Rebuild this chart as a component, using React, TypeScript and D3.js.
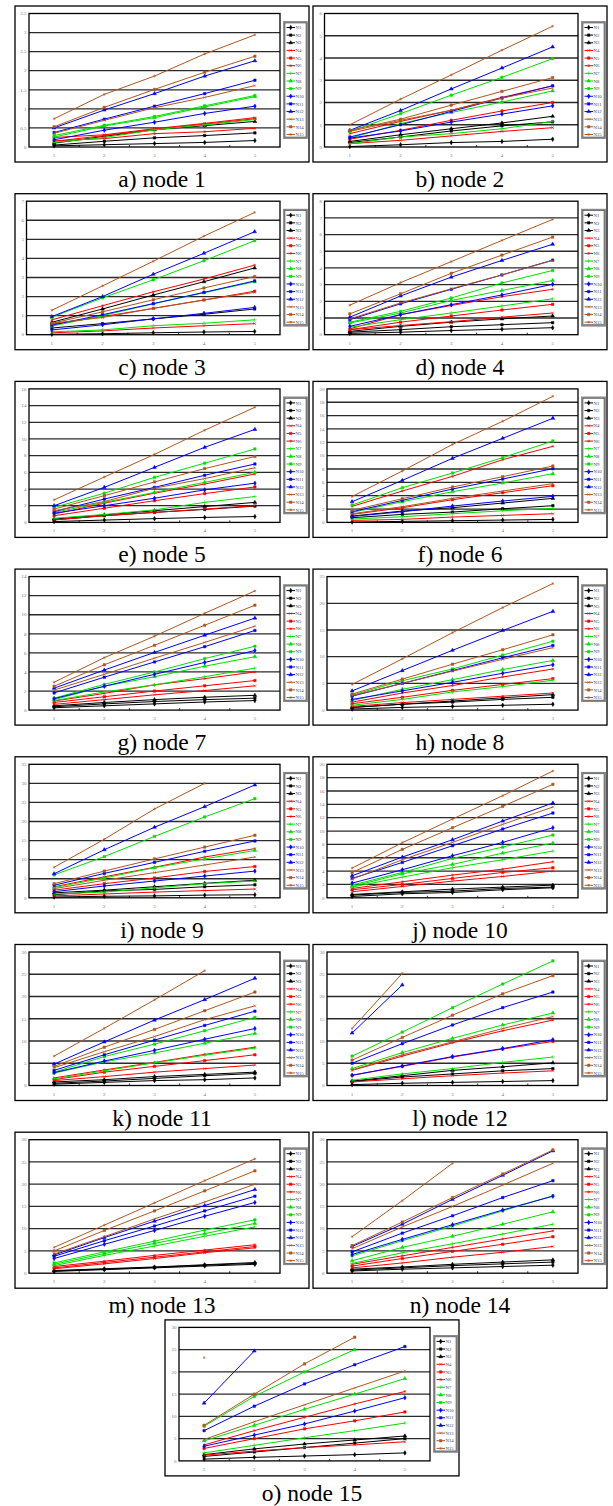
import { useEffect, useRef } from 'react';
import * as d3 from 'd3';

const categories = [1, 2, 3, 4, 5];
const seriesNames = ['N1', 'N2', 'N3', 'N4', 'N5', 'N6', 'N7', 'N8', 'N9', 'N10', 'N11', 'N12', 'N13', 'N14', 'N15'];
const captions = [
  'a) node 1', 'b) node 2', 'c) node 3', 'd) node 4', 'e) node 5', 'f) node 6', 'g) node 7', 'h) node 8',
  'i) node 9', 'j) node 10', 'k) node 11', 'l) node 12', 'm) node 13', 'n) node 14', 'o) node 15',
];
const yMaxes = [3.5, 6, 7, 8, 16, 20, 14, 25, 35, 20, 30, 30, 30, 30, 30];
const ySteps = [0.5, 1, 1, 1, 2, 2, 2, 5, 5, 2, 5, 5, 5, 5, 5];

type V = number | null;

// rows are N1..N15, columns are x = 1..5
const node1: V[][] = [
  [0.03, 0.06, 0.09, 0.12, 0.17],
  [0.05, 0.15, 0.24, 0.30, 0.37],
  [0.10, 0.28, 0.45, 0.56, 0.67],
  [0.25, 0.32, 0.48, 0.62, 0.77],
  [0.15, 0.30, 0.46, 0.60, 0.74],
  [0.16, 0.22, 0.35, 0.40, 0.49],
  [0.12, 0.25, 0.45, 0.58, 0.72],
  [0.26, 0.55, 0.77, 1.05, 1.32],
  [0.30, 0.57, 0.80, 1.08, 1.35],
  [0.19, 0.44, 0.65, 0.88, 1.07],
  [0.38, 0.73, 1.07, 1.40, 1.75],
  [0.50, 0.97, 1.40, 1.86, 2.26],
  [0.36, 0.70, 1.03, 1.30, 1.61],
  [0.53, 1.04, 1.51, 1.96, 2.38],
  [0.74, 1.38, 1.86, 2.44, 2.94],
];
const node2: V[][] = [
  [0.02, 0.10, 0.20, 0.25, 0.35],
  [0.20, 0.45, 0.72, 0.95, 1.13],
  [0.25, 0.55, 0.82, 1.08, 1.38],
  [0.15, 0.30, 0.50, 0.70, 0.87],
  [0.35, 0.75, 1.20, 1.62, 2.00],
  [0.60, 1.15, 1.65, 2.23, 2.75],
  [0.15, 0.45, 0.60, 0.82, 1.15],
  [0.40, 1.05, 1.55, 2.02, 2.52],
  [0.70, 1.50, 2.33, 3.13, 3.97],
  [0.40, 0.72, 1.12, 1.48, 1.85],
  [0.45, 1.00, 1.60, 2.20, 2.75],
  [0.75, 1.64, 2.61, 3.55, 4.50],
  [0.70, 1.20, 1.65, 2.20, 2.65],
  [0.75, 1.25, 1.88, 2.50, 3.12],
  [1.00, 2.15, 3.24, 4.35, 5.43],
];
const node3: V[][] = [
  [0.02, 0.05, 0.10, 0.14, 0.17],
  [0.35, 0.58, 0.83, 1.07, 1.35],
  [0.65, 1.35, 2.08, 2.78, 3.50],
  [0.10, 0.20, 0.35, 0.47, 0.58],
  [0.55, 0.95, 1.38, 1.82, 2.28],
  [0.78, 1.52, 2.25, 2.92, 3.65],
  [0.15, 0.25, 0.47, 0.60, 0.78],
  [0.45, 1.00, 1.62, 2.20, 2.78],
  [0.92, 1.93, 2.88, 3.88, 4.93],
  [0.25, 0.52, 0.83, 1.12, 1.43],
  [0.50, 1.05, 1.63, 2.22, 2.82],
  [0.95, 2.00, 3.17, 4.27, 5.40],
  [0.60, 0.90, 1.38, 1.82, 2.22],
  [0.60, 1.20, 1.83, 2.45, 3.05],
  [1.28, 2.56, 3.85, 5.17, 6.41],
];
const node4: V[][] = [
  [0.08, 0.15, 0.25, 0.33, 0.42],
  [0.15, 0.30, 0.48, 0.60, 0.72],
  [0.20, 0.50, 0.75, 0.95, 1.12],
  [0.30, 0.55, 0.78, 1.05, 1.30],
  [0.30, 0.75, 1.12, 1.48, 1.82],
  [0.35, 1.20, 1.75, 2.28, 2.72],
  [0.45, 0.90, 1.30, 1.72, 2.15],
  [0.70, 1.30, 2.05, 2.65, 3.25],
  [0.75, 1.40, 2.20, 3.10, 3.85],
  [0.50, 1.20, 1.80, 2.38, 3.02],
  [0.90, 1.85, 2.72, 3.58, 4.47],
  [1.05, 2.32, 3.45, 4.45, 5.42],
  [0.95, 1.90, 2.75, 3.58, 4.45],
  [1.25, 2.45, 3.68, 4.77, 5.85],
  [1.77, 3.12, 4.38, 5.65, 6.91],
];
const node5: V[][] = [
  [0.10, 0.28, 0.45, 0.60, 0.70],
  [0.30, 0.80, 1.20, 1.55, 1.95],
  [0.40, 0.90, 1.40, 1.90, 2.40],
  [0.30, 0.80, 1.20, 1.60, 2.00],
  [0.80, 1.70, 2.60, 3.45, 4.25],
  [1.00, 2.30, 3.50, 4.60, 5.80],
  [0.50, 0.95, 1.50, 2.40, 3.10],
  [1.20, 2.40, 3.60, 4.80, 6.00],
  [1.80, 3.50, 5.40, 7.10, 8.80],
  [1.10, 2.00, 2.90, 3.90, 4.70],
  [1.30, 2.80, 4.20, 5.65, 7.00],
  [2.00, 4.20, 6.60, 9.00, 11.15],
  [1.40, 2.50, 4.10, 5.25, 6.55],
  [1.60, 3.20, 4.85, 6.45, 7.90],
  [2.70, 5.44, 8.15, 11.05, 13.80],
];
const node6: V[][] = [
  [0.05, 0.15, 0.25, 0.35, 0.45],
  [0.70, 1.20, 1.55, 2.05, 2.50],
  [0.95, 1.70, 2.20, 2.90, 3.60],
  [0.30, 0.45, 0.80, 1.05, 1.30],
  [1.20, 2.20, 3.40, 4.45, 5.50],
  [2.40, 4.70, 6.90, 9.40, 11.40],
  [0.50, 0.85, 1.30, 1.75, 2.10],
  [1.50, 3.10, 4.60, 5.90, 7.30],
  [2.60, 5.20, 7.40, 9.70, 12.20],
  [0.90, 1.60, 2.45, 3.20, 3.90],
  [1.60, 3.30, 5.00, 6.50, 8.05],
  [3.10, 6.30, 9.60, 12.60, 15.60],
  [1.30, 2.35, 3.60, 4.70, 5.80],
  [1.80, 3.55, 5.30, 6.85, 8.45],
  [3.88, 7.70, 11.68, 15.15, 18.90],
];
const node7: V[][] = [
  [0.25, 0.45, 0.65, 0.85, 1.00],
  [0.35, 0.65, 0.90, 1.10, 1.25],
  [0.45, 0.80, 1.10, 1.35, 1.55],
  [0.60, 1.10, 1.60, 2.05, 2.55],
  [0.80, 1.40, 2.00, 2.55, 3.10],
  [0.95, 1.75, 2.65, 3.30, 4.00],
  [1.00, 1.90, 2.65, 3.50, 4.40],
  [1.10, 2.50, 3.50, 4.60, 5.60],
  [1.25, 2.70, 4.00, 5.40, 6.70],
  [1.20, 2.50, 3.75, 5.00, 6.25],
  [1.80, 3.45, 5.05, 6.65, 8.35],
  [2.30, 4.20, 6.05, 7.85, 9.65],
  [2.10, 3.75, 5.45, 7.10, 8.80],
  [2.50, 4.75, 6.80, 8.90, 11.00],
  [2.92, 5.50, 7.75, 10.15, 12.50],
];
const node8: V[][] = [
  [0.20, 0.50, 0.70, 0.90, 1.10],
  [0.50, 1.10, 1.50, 2.00, 2.40],
  [0.50, 1.10, 1.70, 2.30, 2.90],
  [0.70, 1.40, 2.00, 2.60, 3.20],
  [1.20, 2.40, 3.70, 4.80, 5.90],
  [1.50, 3.20, 4.60, 6.20, 7.70],
  [0.90, 2.00, 3.40, 4.40, 5.60],
  [1.80, 3.90, 5.70, 7.60, 9.30],
  [2.80, 5.50, 7.70, 10.30, 12.90],
  [2.00, 3.60, 5.20, 6.90, 8.50],
  [2.60, 5.00, 7.40, 9.80, 12.10],
  [3.60, 7.40, 11.20, 14.90, 18.50],
  [2.70, 5.00, 7.30, 9.50, 11.70],
  [3.00, 5.80, 8.60, 11.30, 14.10],
  [4.80, 9.60, 14.50, 19.20, 23.70],
];
const node9: V[][] = [
  [0.20, 0.40, 0.50, 0.70, 0.80],
  [0.80, 1.80, 2.20, 2.90, 3.40],
  [1.30, 2.00, 2.90, 3.80, 4.60],
  [0.50, 1.00, 1.50, 1.90, 2.30],
  [2.00, 3.70, 5.20, 6.90, 8.20],
  [2.90, 5.50, 8.00, 10.70, 12.90],
  [1.00, 1.50, 2.60, 3.70, 4.40],
  [2.70, 5.20, 7.90, 10.20, 12.40],
  [6.00, 10.80, 16.10, 21.20, 26.00],
  [1.60, 3.10, 4.40, 5.70, 7.00],
  [3.30, 6.40, 9.30, 12.20, 14.90],
  [6.30, 12.60, 18.50, 23.90, 29.60],
  [2.40, 4.60, 6.60, 8.60, 10.70],
  [3.70, 7.00, 10.20, 13.30, 16.40],
  [8.00, 15.35, 23.30, 30.00, null],
];
const node10: V[][] = [
  [0.20, 0.60, 0.80, 1.20, 1.50],
  [0.40, 0.80, 1.00, 1.40, 1.60],
  [0.50, 0.90, 1.30, 1.60, 1.90],
  [0.90, 1.70, 2.50, 3.20, 4.00],
  [1.20, 2.00, 2.90, 3.80, 4.50],
  [1.40, 2.40, 3.40, 4.30, 5.40],
  [1.60, 3.10, 4.50, 5.70, 7.00],
  [1.70, 3.60, 5.00, 6.70, 8.20],
  [1.90, 3.80, 5.90, 7.60, 9.40],
  [2.20, 4.20, 6.30, 8.30, 10.50],
  [2.90, 5.30, 7.80, 10.30, 12.70],
  [3.30, 6.10, 8.70, 11.50, 14.20],
  [2.80, 5.70, 8.30, 11.00, 13.60],
  [3.80, 7.25, 10.50, 13.70, 17.00],
  [4.45, 8.25, 11.80, 15.30, 19.00],
];
const node11: V[][] = [
  [0.30, 0.70, 1.10, 1.30, 1.70],
  [0.50, 1.00, 1.60, 2.20, 2.70],
  [0.80, 1.30, 2.00, 2.50, 3.00],
  [1.10, 2.00, 3.00, 3.80, 4.60],
  [1.30, 3.00, 4.30, 5.60, 6.90],
  [1.70, 3.50, 5.20, 7.00, 8.60],
  [1.50, 3.30, 5.10, 6.80, 8.40],
  [2.80, 5.30, 7.30, 9.50, 11.70],
  [3.00, 6.50, 9.30, 12.30, 15.30],
  [2.90, 5.50, 7.90, 10.40, 12.80],
  [3.40, 6.90, 10.20, 13.50, 16.70],
  [4.80, 9.80, 14.70, 19.30, 24.10],
  [4.00, 7.60, 11.00, 14.80, 17.90],
  [4.30, 8.60, 12.60, 16.80, 21.00],
  [6.60, 12.85, 19.25, 25.80, null],
];
const node12: V[][] = [
  [0.20, 0.50, 0.70, 0.90, 1.10],
  [0.90, 1.90, 2.60, 3.30, 3.80],
  [1.00, 2.20, 3.40, 4.20, 5.10],
  [0.80, 1.50, 2.20, 2.80, 3.30],
  [2.30, 4.30, 6.40, 8.20, 9.90],
  [3.40, 6.60, 9.60, 12.30, 14.70],
  [1.20, 2.60, 3.80, 5.20, 6.40],
  [3.80, 7.40, 10.60, 13.60, 16.30],
  [6.60, 12.00, 17.50, 22.80, 28.00],
  [2.30, 4.40, 6.50, 8.30, 10.30],
  [5.00, 9.40, 13.60, 17.50, 21.00],
  [11.80, 22.60, null, null, null],
  [3.50, 6.90, 9.80, 12.80, 15.50],
  [5.70, 10.80, 15.80, 20.60, 24.70],
  [12.80, 25.20, null, null, null],
];
const node13: V[][] = [
  [0.40, 0.80, 1.20, 1.60, 2.00],
  [0.50, 0.90, 1.30, 1.80, 2.20],
  [0.60, 1.00, 1.40, 1.90, 2.40],
  [1.00, 2.10, 3.30, 4.60, 5.70],
  [1.20, 2.40, 3.60, 4.80, 6.00],
  [1.50, 2.70, 4.00, 5.20, 6.40],
  [1.70, 4.00, 6.10, 8.30, 10.40],
  [2.00, 4.40, 6.70, 8.90, 11.20],
  [2.30, 4.80, 7.20, 9.70, 12.00],
  [3.30, 6.50, 9.60, 12.80, 15.90],
  [3.80, 7.30, 10.60, 14.00, 17.30],
  [4.10, 8.00, 11.70, 15.20, 18.80],
  [4.30, 8.20, 12.20, 16.00, 20.00],
  [5.00, 9.60, 14.00, 18.50, 23.00],
  [5.80, 10.80, 15.80, 20.80, 25.70],
];
const node14: V[][] = [
  [0.50, 0.90, 1.20, 1.50, 1.80],
  [0.70, 1.20, 1.70, 2.10, 2.50],
  [0.90, 1.40, 2.00, 2.50, 3.00],
  [1.20, 2.30, 3.60, 4.70, 6.00],
  [1.60, 3.30, 4.90, 6.50, 8.20],
  [2.00, 3.90, 5.80, 7.70, 9.50],
  [2.20, 4.60, 6.60, 8.80, 11.00],
  [2.80, 5.80, 8.30, 11.00, 13.80],
  [3.90, 7.30, 10.60, 14.00, 17.40],
  [4.20, 7.60, 10.90, 14.20, 17.30],
  [4.80, 9.00, 12.90, 17.00, 20.80],
  [6.00, 11.00, 16.60, 22.00, 27.50],
  [5.50, 10.40, 15.00, 19.80, 24.70],
  [6.20, 11.50, 17.00, 22.30, 27.70],
  [8.20, 16.30, 24.70, null, null],
];
const node15: V[][] = [
  [0.40, 0.80, 1.10, 1.40, 1.80],
  [1.00, 2.00, 3.00, 4.00, 5.00],
  [1.40, 2.70, 3.80, 4.70, 5.60],
  [1.30, 2.20, 3.00, 3.60, 4.30],
  [2.80, 5.00, 7.20, 9.00, 11.00],
  [3.60, 6.80, 9.80, 12.80, 15.60],
  [1.80, 3.50, 5.20, 6.80, 8.50],
  [4.50, 8.00, 11.60, 15.00, 18.50],
  [7.80, 14.50, 20.00, 25.00, null],
  [3.30, 5.80, 8.30, 11.20, 14.20],
  [6.80, 12.30, 17.30, 21.60, 25.70],
  [13.00, 24.70, null, null, null],
  [4.80, 8.80, 12.60, 16.40, 20.20],
  [8.00, 15.00, 21.80, 27.80, null],
  [23.20, null, null, null, null],
];

const nodes = [node1, node2, node3, node4, node5, node6, node7, node8, node9, node10, node11, node12, node13, node14, node15];

const seriesColors = [
  '#000000', '#000000', '#000000',
  '#ff0000', '#ff0000', '#ff0000',
  '#00e000', '#00e000', '#00e000',
  '#0000ff', '#0000ff', '#0000ff',
  '#b0561e', '#b0561e', '#b0561e',
];

const sym: any = d3 as any;
const seriesSymbols = [
  d3.symbolDiamond, d3.symbolSquare, d3.symbolTriangle,
  sym.symbolTimes ?? d3.symbolCross, d3.symbolSquare, sym.symbolAsterisk ?? d3.symbolStar,
  sym.symbolPlus ?? d3.symbolCross, d3.symbolTriangle, d3.symbolSquare,
  d3.symbolDiamond, d3.symbolSquare, d3.symbolTriangle,
  sym.symbolTimes ?? d3.symbolCross, d3.symbolSquare, sym.symbolAsterisk ?? d3.symbolStar,
];

const W = 613;
const H = 1506;
const PW = 294;
const PH = 156;
const ROW = 187.7;

export default function App() {
  const svgRef = useRef<SVGSVGElement>(null);

  useEffect(() => {
    if (!svgRef.current) return;
    const svg = d3.select(svgRef.current);
    svg.selectAll('*').remove();

    svg.append('rect').attr('width', W).attr('height', H).attr('fill', '#fff');

    nodes.forEach((data, idx) => {
      const col = idx % 2;
      const row = Math.floor(idx / 2);
      const px = idx === 14 ? 165 : col === 0 ? 15 : 313;
      const py = 6 + row * ROW;
      const g = svg.append('g').attr('transform', `translate(${px},${py})`);

      const yMax = yMaxes[idx];
      const step = ySteps[idx];
      const ticks = d3.range(0, yMax + step / 2, step).map(t => +t.toFixed(2));
      const fmt = d3.format('~g');
      const labels = ticks.map(t => fmt(t));
      const left = labels.some(l => l.length > 1) ? 14 : 11.5;
      const right = 265;
      const top = 7.5;
      const bottom = 141;

      const y = d3.scaleLinear().domain([0, yMax]).range([bottom, top]);
      const x = d3.scalePoint<number>().domain(categories).range([left, right]).padding(0.5);

      // outer frame
      g.append('rect')
        .attr('x', 0).attr('y', 0).attr('width', PW).attr('height', PH)
        .attr('fill', '#fff').attr('stroke', '#000').attr('stroke-width', 1.3);

      // gridlines
      g.selectAll('.grid')
        .data(ticks.filter(t => t > 0 && t < yMax))
        .join('line')
        .attr('x1', left).attr('x2', right)
        .attr('y1', d => y(d)).attr('y2', d => y(d))
        .attr('stroke', '#2a2a2a').attr('stroke-width', 1.3);

      // plot border
      g.append('rect')
        .attr('x', left).attr('y', top).attr('width', right - left).attr('height', bottom - top)
        .attr('fill', 'none').attr('stroke', '#000').attr('stroke-width', 1.3);

      // minor ticks between categories
      const stp = x.step();
      g.selectAll('.minor')
        .data(d3.range(1, categories.length))
        .join('line')
        .attr('x1', k => left + k * stp).attr('x2', k => left + k * stp)
        .attr('y1', bottom).attr('y2', bottom - 2)
        .attr('stroke', '#000').attr('stroke-width', 0.8);

      // y labels
      g.selectAll('.ylab')
        .data(ticks)
        .join('text')
        .attr('x', left - 2.5)
        .attr('y', d => y(d))
        .attr('dy', '0.35em')
        .attr('text-anchor', 'end')
        .attr('font-family', 'Liberation Serif, serif')
        .attr('font-size', 5)
        .attr('fill', '#777')
        .text((d, i) => labels[i]);

      // x labels
      g.selectAll('.xlab')
        .data(categories)
        .join('text')
        .attr('x', d => x(d) as number)
        .attr('y', 151)
        .attr('text-anchor', 'middle')
        .attr('font-family', 'Liberation Serif, serif')
        .attr('font-size', 5)
        .attr('fill', '#777')
        .text(d => d);

      // series
      const line = d3.line<V>()
        .defined(d => d !== null)
        .x((d, i) => x(categories[i]) as number)
        .y(d => y(d as number));

      data.forEach((vals, s) => {
        const color = seriesColors[s];
        g.append('path')
          .attr('d', line(vals) as string)
          .attr('fill', 'none')
          .attr('stroke', color)
          .attr('stroke-width', 1);
        const pts = vals
          .map((v, i) => ({ v, c: categories[i] }))
          .filter(p => p.v !== null);
        g.selectAll(null)
          .data(pts)
          .join('path')
          .attr('transform', p => `translate(${x(p.c)},${y(p.v as number)})`)
          .attr('d', d3.symbol().type(seriesSymbols[s]).size(6) as any)
          .attr('fill', color)
          .attr('stroke', color)
          .attr('stroke-width', 0.5);
      });

      // legend
      const lx = 269;
      const ly = 16;
      g.append('rect')
        .attr('x', lx).attr('y', ly).attr('width', 23).attr('height', 116)
        .attr('fill', '#fff').attr('stroke', '#888').attr('stroke-width', 1.8);
      g.append('rect')
        .attr('x', lx + 1).attr('y', ly + 1).attr('width', 21).attr('height', 114)
        .attr('fill', 'none').attr('stroke', '#333').attr('stroke-width', 0.5);
      seriesNames.forEach((name, s) => {
        const yy = 21.5 + s * 7.64;
        const color = seriesColors[s];
        g.append('line')
          .attr('x1', 271.5).attr('x2', 280).attr('y1', yy).attr('y2', yy)
          .attr('stroke', color).attr('stroke-width', 1);
        g.append('path')
          .attr('transform', `translate(275.7,${yy})`)
          .attr('d', d3.symbol().type(seriesSymbols[s]).size(6)() as string)
          .attr('fill', color).attr('stroke', color).attr('stroke-width', 0.5);
        g.append('text')
          .attr('x', 280.5).attr('y', yy).attr('dy', '0.35em')
          .attr('font-family', 'Liberation Serif, serif')
          .attr('font-size', 4.8)
          .attr('fill', '#444')
          .text(name);
      });

      // caption
      g.append('text')
        .attr('x', PW / 2)
        .attr('y', 181)
        .attr('text-anchor', 'middle')
        .attr('font-family', 'Liberation Serif, Times New Roman, serif')
        .attr('font-size', 23.5)
        .attr('fill', '#000')
        .text(captions[idx]);
    });
  }, []);

  return (
    <svg
      ref={svgRef}
      width={W}
      height={H}
      style={{ position: 'absolute', left: 0, top: 0, display: 'block' }}
    />
  );
}
